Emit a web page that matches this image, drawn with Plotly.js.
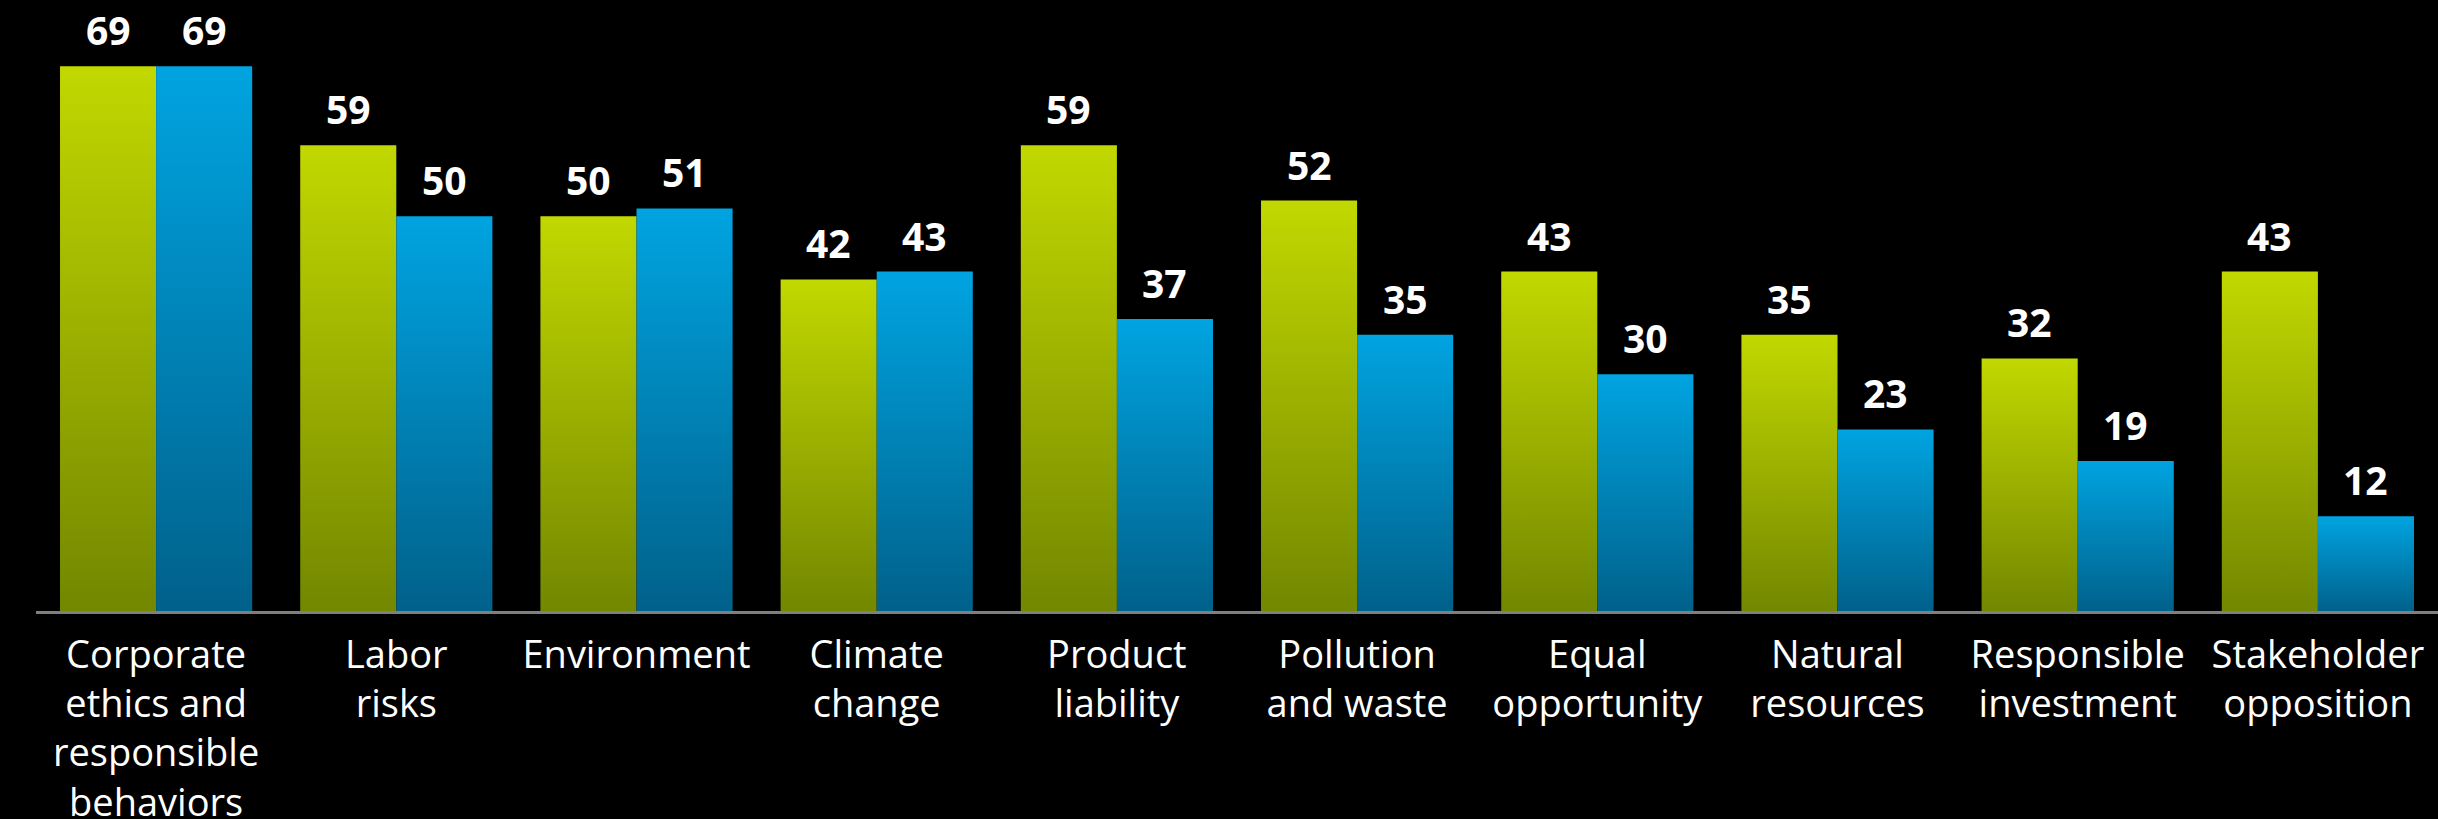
<!DOCTYPE html>
<html>
<head>
<meta charset="utf-8">
<script src="https://cdn.plot.ly/plotly-3.0.1.min.js"></script>
<style>
  html, body { margin: 0; padding: 0; background: #000; }
  #chart { width: 2438px; height: 819px; }
</style>
</head>
<body>
<div id="chart"></div>
<script>
const categories = [
  "Corporate<br>ethics and<br>responsible<br>behaviors",
  "Labor<br>risks",
  "Environment",
  "Climate<br>change",
  "Product<br>liability",
  "Pollution<br>and waste",
  "Equal<br>opportunity",
  "Natural<br>resources",
  "Responsible<br>investment",
  "Stakeholder<br>opposition"
];
const greenValues = [69, 59, 50, 42, 59, 52, 43, 35, 32, 43];
const blueValues  = [69, 50, 51, 43, 37, 35, 30, 23, 19, 12];

const idx = categories.map((_, i) => i);

const traces = [
  { type: "bar", name: "Series 1", x: idx, y: greenValues,
    marker: { color: "#9fb400", line: { width: 0 } }, hoverinfo: "y" },
  { type: "bar", name: "Series 2", x: idx, y: blueValues,
    marker: { color: "#0088c0", line: { width: 0 } }, hoverinfo: "y" }
];

const annotations = [];
idx.forEach(i => {
  annotations.push({ x: i - 0.2, y: greenValues[i], xref: "x", yref: "y",
    text: String(greenValues[i]), showarrow: false, yanchor: "bottom", yshift: 8,
    font: { family: "Open Sans", size: 39, color: "#ffffff", weight: "bold" } });
  annotations.push({ x: i + 0.2, y: blueValues[i], xref: "x", yref: "y",
    text: String(blueValues[i]), showarrow: false, yanchor: "bottom", yshift: 8,
    font: { family: "Open Sans", size: 39, color: "#ffffff", weight: "bold" } });
});

const layout = {
  width: 2438, height: 819,
  paper_bgcolor: "#000000", plot_bgcolor: "#000000",
  margin: { l: 36, r: 0, t: 0, b: 208, pad: 0 },
  barmode: "group", bargap: 0.2, bargroupgap: 0,
  showlegend: false,
  font: { family: "Open Sans", color: "#ffffff" },
  xaxis: {
    type: "linear", range: [-0.5, categories.length - 0.5],
    tickmode: "array", tickvals: idx, ticktext: categories,
    showgrid: false, zeroline: false, ticks: "",
    showline: true, linecolor: "#7f7f7f", linewidth: 3,
    ticklabelstandoff: 8,
    tickfont: { family: "Open Sans", size: 38, color: "#ffffff" },
    fixedrange: true
  },
  yaxis: { range: [0, 77.4], visible: false, showgrid: false, zeroline: false, fixedrange: true },
  annotations: annotations
};

Plotly.newPlot("chart", traces, layout, { displayModeBar: false, staticPlot: true }).then(gd => {
  const svg = gd.querySelector(".main-svg");
  const ns = "http://www.w3.org/2000/svg";
  let defs = svg.querySelector("defs");
  if (!defs) { defs = document.createElementNS(ns, "defs"); svg.insertBefore(defs, svg.firstChild); }
  function grad(id, top, bottom) {
    const g = document.createElementNS(ns, "linearGradient");
    g.setAttribute("id", id);
    g.setAttribute("x1", "0"); g.setAttribute("y1", "0");
    g.setAttribute("x2", "0"); g.setAttribute("y2", "1");
    [[0, top], [1, bottom]].forEach(([o, c]) => {
      const s = document.createElementNS(ns, "stop");
      s.setAttribute("offset", o); s.setAttribute("stop-color", c);
      g.appendChild(s);
    });
    defs.appendChild(g);
  }
  grad("gGreen", "#c2d800", "#738700");
  grad("gBlue", "#00a4e1", "#00618b");
  const bars = gd.querySelectorAll(".trace.bars");
  bars.forEach((t, k) => {
    t.querySelectorAll("path").forEach(p => {
      p.style.fill = k === 0 ? "url(#gGreen)" : "url(#gBlue)";
    });
  });
});
</script>
</body>
</html>
